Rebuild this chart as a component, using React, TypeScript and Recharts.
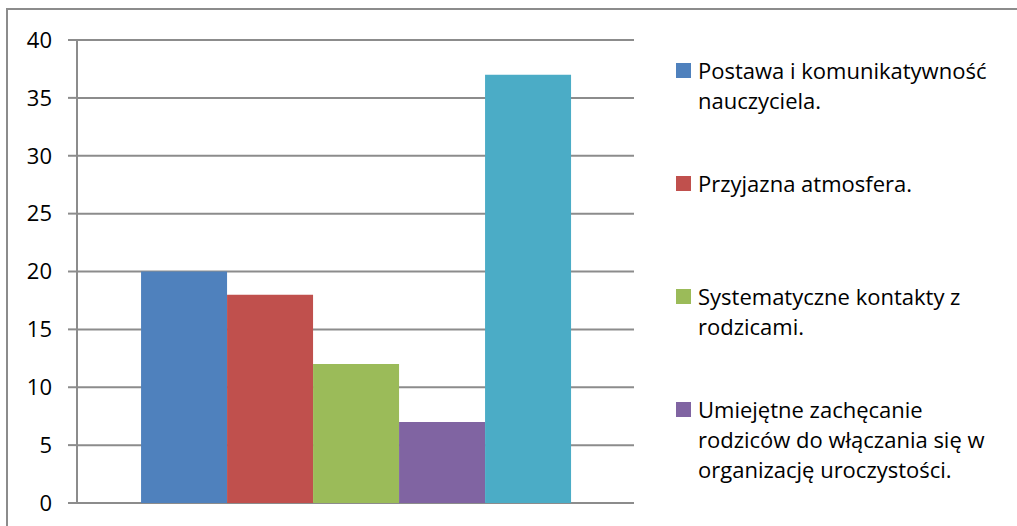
import { BarChart, Bar, XAxis, YAxis, CartesianGrid } from 'recharts';

const seriesKeys = ['s1', 's2', 's3', 's4', 's5'];
const seriesNames = [
  'Postawa i komunikatywność nauczyciela.',
  'Przyjazna atmosfera.',
  'Systematyczne kontakty z rodzicami.',
  'Umiejętne zachęcanie rodziców do włączania się w organizację uroczystości.',
  '',
];
const seriesValues = [20, 18, 12, 7, 37];
const seriesColors = ['#4f81bd', '#c0504d', '#9bbb59', '#8064a2', '#4bacc6'];
const yTicks = [0, 5, 10, 15, 20, 25, 30, 35, 40];

const row: Record<string, number | string> = { name: '' };
seriesKeys.forEach((k, i) => {
  row[k] = seriesValues[i];
});
const data = [row];

const FONT = '"Open Sans", Lato, sans-serif';
const GRID = '#8c8c8c';

// the fifth entry is cut off in the original, so only the named ones are listed
const LegendList = () => (
  <div style={{ position: 'absolute', left: 676, top: 55, fontFamily: FONT }}>
    {seriesNames.map((name, i) =>
      name ? (
        <div key={`leg-${i}`} style={{ display: 'flex', alignItems: 'flex-start', height: 113 }}>
          <span
            style={{
              width: 15,
              height: 15,
              marginTop: 8,
              marginRight: 7,
              flex: '0 0 auto',
              background: seriesColors[i],
            }}
          />
          <span style={{ fontSize: 22, lineHeight: '30px', color: '#000', width: 320 }}>{name}</span>
        </div>
      ) : null
    )}
  </div>
);

export default function App() {
  return (
    <div
      style={{
        position: 'fixed',
        left: 0,
        top: 0,
        width: 1017,
        height: 526,
        overflow: 'hidden',
        background: '#fff',
        fontFamily: FONT,
      }}
    >
      <div
        style={{
          position: 'absolute',
          left: 6,
          top: 8,
          width: 1200,
          height: 700,
          border: `2px solid ${GRID}`,
        }}
      />
      <div style={{ position: 'absolute', left: 0, top: 0 }}>
        <BarChart
          width={1017}
          height={526}
          data={data}
          margin={{ top: 40, right: 383, bottom: 23, left: 0 }}
          barCategoryGap="11.5%"
          barGap={0}
        >
          <CartesianGrid vertical={false} stroke={GRID} strokeWidth={2} />
          <XAxis dataKey="name" hide />
          <YAxis
            width={77}
            domain={[0, 40]}
            ticks={yTicks}
            interval={0}
            tickSize={9}
            tickMargin={16}
            axisLine={{ stroke: GRID, strokeWidth: 2 }}
            tickLine={{ stroke: GRID, strokeWidth: 2 }}
            tick={{ fill: '#000', fontSize: 22, fontFamily: FONT }}
          />
          {seriesKeys.map((k, i) => (
            <Bar key={k} dataKey={k} name={seriesNames[i]} fill={seriesColors[i]} isAnimationActive={false} />
          ))}
        </BarChart>
      </div>
      <LegendList />
    </div>
  );
}
